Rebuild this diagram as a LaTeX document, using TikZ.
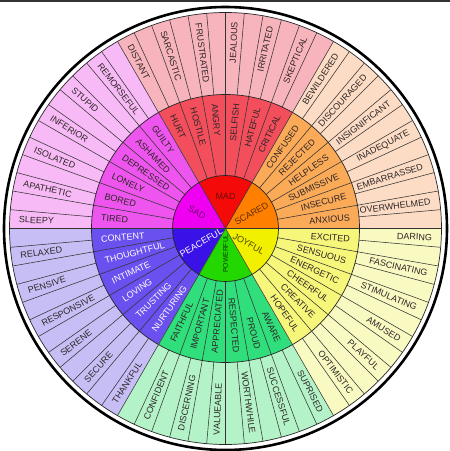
\documentclass[tikz,border=0pt]{standalone}
\usepackage{fontspec}
\setmainfont{Liberation Sans}
\usepackage{tikz}
\usetikzlibrary{calc}
\definecolor{madA}{HTML}{F50A0A}
\definecolor{madB}{HTML}{F24E5C}
\definecolor{madC}{HTML}{F8B4BC}
\definecolor{madD}{HTML}{6E0A0A}
\definecolor{scaredA}{HTML}{FF8000}
\definecolor{scaredB}{HTML}{FBAA58}
\definecolor{scaredC}{HTML}{FCDCC4}
\definecolor{scaredD}{HTML}{5E2C00}
\definecolor{joyA}{HTML}{F0F000}
\definecolor{joyB}{HTML}{F6F67A}
\definecolor{joyC}{HTML}{F9F9C2}
\definecolor{joyD}{HTML}{4E4800}
\definecolor{powA}{HTML}{22D800}
\definecolor{powB}{HTML}{30DE7C}
\definecolor{powC}{HTML}{B4F3C8}
\definecolor{powD}{HTML}{0A3A00}
\definecolor{peaceA}{HTML}{3A12E8}
\definecolor{peaceB}{HTML}{6A50EE}
\definecolor{peaceC}{HTML}{C6BEF5}
\definecolor{sadA}{HTML}{F000F0}
\definecolor{sadB}{HTML}{EE55EE}
\definecolor{sadC}{HTML}{F8BAF6}
\definecolor{sadD}{HTML}{700070}
\definecolor{wordgray}{HTML}{2E2626}
\tikzset{
	feeling wheel/.style={
		x=1pt, y=1pt,
		spoke/.style={draw=black!80, line width=.55pt},
		rim/.style={draw=black!85, line width=.7pt},
		outer rim/.style={draw=black, line width=2.6pt}
		},
	core word/.style={font=\fontsize{9}{9}\selectfont, inner sep=0pt},
	mid word/.style={font=\fontsize{9}{9}\selectfont, inner sep=0pt},
	out word/.style={font=\fontsize{9}{9}\selectfont, inner sep=0pt, text=wordgray},
	% words read from the rim inwards on the left half
	radial/.code={
		\pgfmathtruncatemacro\flip{and(#1>90,#1<270)}
		\ifnum\flip=1 \pgfkeysalso{rotate=#1+180,anchor=west}\else\pgfkeysalso{rotate=#1,anchor=east}\fi
	},
	top bar/.style={fill=black!80}
}

\begin{document}
\begin{tikzpicture}[feeling wheel]
	\useasboundingbox (0,0) rectangle (450,451);
	\fill[top bar] (0,448.6) rectangle (450,451);
	\coordinate (O) at (225.5,222.5);
	\foreach \s/\cc/\mc/\oc/\mt/\mids/\outs in {
		0/scaredA/scaredB/scaredC/wordgray/{ANXIOUS,INSECURE,SUBMISSIVE,HELPLESS,REJECTED,CONFUSED}/{OVERWHELMED,EMBARRASSED,INADEQUATE,INSIGNIFICANT,DISCOURAGED,BEWILDERED},
		60/madA/madB/madC/wordgray/{CRITICAL,HATEFUL,SELFISH,ANGRY,HOSTILE,HURT}/{SKEPTICAL,IRRITATED,JEALOUS,FRUSTRATED,SARCASTIC,DISTANT},
		120/sadA/sadB/sadC/wordgray/{GUILTY,ASHAMED,DEPRESSED,LONELY,BORED,TIRED}/{REMORSEFUL,STUPID,INFERIOR,ISOLATED,APATHETIC,SLEEPY},
		180/peaceA/peaceB/peaceC/white/{CONTENT,THOUGHTFUL,INTIMATE,LOVING,TRUSTING,NURTURING}/{RELAXED,PENSIVE,RESPONSIVE,SERENE,SECURE,THANKFUL},
		240/powA/powB/powC/wordgray/{FAITHFUL,IMPORTANT,APPRECIATED,RESPECTED,PROUD,AWARE}/{CONFIDENT,DISCERNING,VALUEABLE,WORTHWHILE,SUCCESSFUL,SUPRISED},
		300/joyA/joyB/joyC/wordgray/{HOPEFUL,CREATIVE,CHEERFUL,ENERGETIC,SENSUOUS,EXCITED}/{OPTIMISTIC,PLAYFUL,AMUSED,STIMULATING,FASCINATING,DARING}}
	{
		\fill[\oc] (O) -- ($(O)+(\s:216)$) arc[start angle=\s, delta angle=60, radius=216] -- cycle;
		\fill[\mc] (O) -- ($(O)+(\s:134)$) arc[start angle=\s, delta angle=60, radius=134] -- cycle;
		\fill[\cc] (O) -- ($(O)+(\s:53)$) arc[start angle=\s, delta angle=60, radius=53] -- cycle;
		\foreach \w [count=\k] in \mids {
			\pgfmathsetmacro\a{\s+10*\k-5}
			\node[mid word, text=\mt, radial=\a] (mid-\s-\k) at ($(O)+(\a:125)$) {\w};
		}
		\foreach \w [count=\k] in \outs {
			\pgfmathsetmacro\a{\s+10*\k-2.5}
			\node[out word, radial=\a] (out-\s-\k) at ($(O)+(\a:207)$) {\w};
		}
	}
	\foreach \a in {0,5,...,355} \draw[spoke] ($(O)+(\a:134)$) -- ($(O)+(\a:216)$);
	\foreach \a in {0,10,...,350} \draw[spoke] ($(O)+(\a:53)$) -- ($(O)+(\a:134)$);
	\foreach \a in {0,60,...,300} \draw[spoke] (O) -- ($(O)+(\a:53)$);
	\foreach \r in {53,134,216} \draw[rim] (O) circle[radius=\r];
	\draw[outer rim] (O) circle[radius=221.5];
	% the six core feelings
	\node[core word, text=madD] (mad) at ($(O)+(90:32)$) {MAD};
	\node[core word, text=scaredD, rotate=30] (scared) at ($(O)+(30:30)$) {SCARED};
	\node[core word, text=joyD, rotate=-30] (joyful) at ($(O)+(-34:28)$) {JOYFUL};
	\node[core word, text=powD, rotate=90, font=\fontsize{6.8}{7}\selectfont] (powerful) at ($(O)+(-90:25)$) {POWERFUL};
	\node[core word, text=white, rotate=30] (peaceful) at ($(O)+(210:28)$) {PEACEFUL};
	\node[core word, text=sadD, rotate=-30] (sad) at ($(O)+(150:33)$) {SAD};
\end{tikzpicture}
\end{document}
